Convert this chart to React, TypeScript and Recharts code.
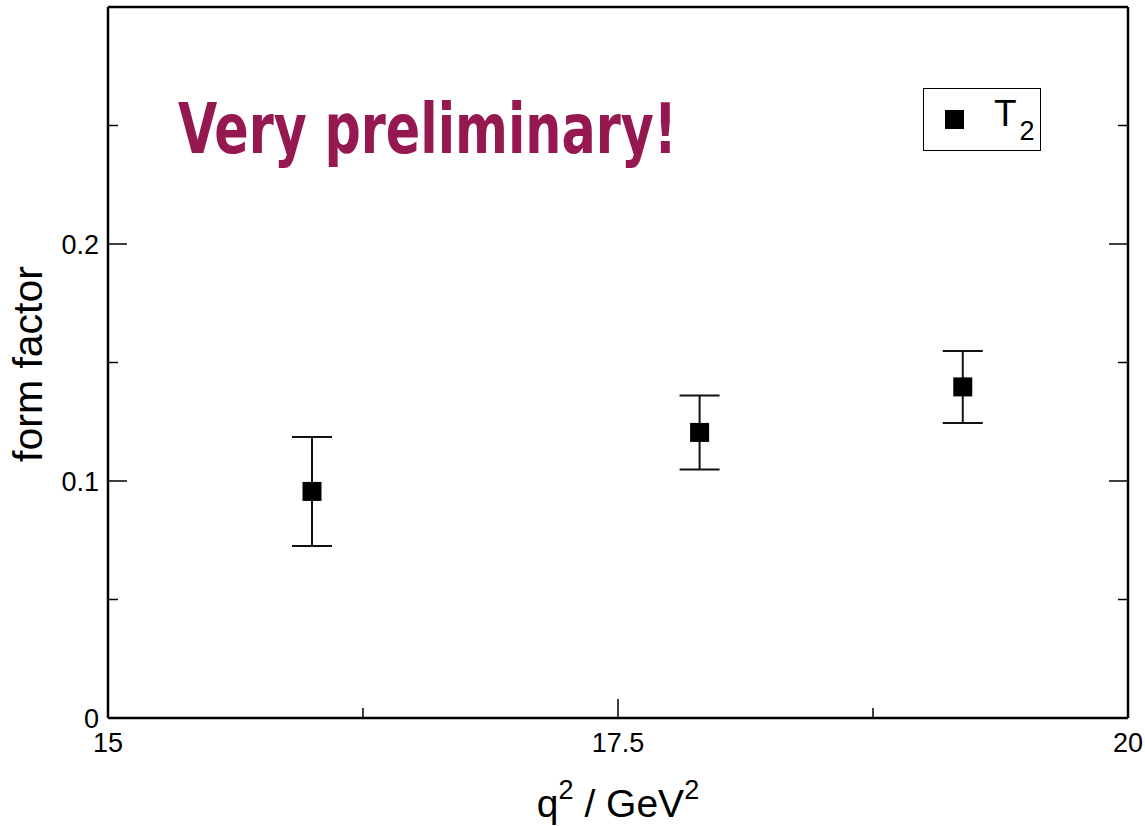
// Form factor T2 vs q^2 — scatter with error bars (Recharts)
import {
  ScatterChart, Scatter, XAxis, YAxis, ErrorBar, Legend,
} from 'recharts';

const Q2 = [16.0, 17.9, 19.19];
const T2 = [0.0956, 0.1205, 0.1397];
const T2_ERR = [0.023, 0.0156, 0.0152];

const X_TICKS = [15, 16.25, 17.5, 18.75, 20];
const X_MAJOR = [15, 17.5, 20];
const Y_TICKS = [0, 0.05, 0.1, 0.15, 0.2, 0.25, 0.3];
const Y_MAJOR = [0, 0.1, 0.2];

const FONT = '"Liberation Sans", Arial, Helvetica, sans-serif';
const MAJOR_LEN = 19;
const MINOR_LEN = 10;
const CHART_W = 1145;
const CHART_H = 826;
const MARGIN = { top: 6, right: 16, bottom: 48, left: 8 };
const Y_AXIS_W = 100;
const PLOT_W = CHART_W - MARGIN.left - MARGIN.right - Y_AXIS_W - 1;

const data = Q2.map((q, i) => ({ q2: q, t2: T2[i], err: T2_ERR[i] }));

function BottomTick({ x, y, payload }: any) {
  const major = X_MAJOR.includes(payload.value);
  return (
    <g>
      <line x1={x} x2={x} y1={y} y2={y - (major ? MAJOR_LEN : MINOR_LEN)} stroke="#000" strokeWidth={1.5} />
      {major && (
        <text x={x} y={y + 34} textAnchor="middle" fontSize={27} fontFamily={FONT} fill="#000">
          {payload.value}
        </text>
      )}
    </g>
  );
}

function TopTick({ x, y, payload }: any) {
  const major = X_MAJOR.includes(payload.value);
  return <line x1={x} x2={x} y1={y} y2={y + (major ? MAJOR_LEN : MINOR_LEN)} stroke="#000" strokeWidth={1.5} />;
}

// left ticks + labels, mirrored ticks on the right frame edge
function LeftTick({ x, y, payload }: any) {
  const major = Y_MAJOR.includes(payload.value) || payload.value === 0.3;
  const label = Y_MAJOR.includes(payload.value);
  const len = major ? MAJOR_LEN : MINOR_LEN;
  const xr = x + PLOT_W;
  return (
    <g>
      <line x1={x} x2={x + len} y1={y} y2={y} stroke="#000" strokeWidth={1.5} />
      <line x1={xr} x2={xr - len} y1={y} y2={y} stroke="#000" strokeWidth={1.5} />
      {label && (
        <text x={x - 9} y={y + 10} textAnchor="end" fontSize={27} fontFamily={FONT} fill="#000">
          {payload.value}
        </text>
      )}
    </g>
  );
}

function SquareDot({ cx, cy }: any) {
  return <rect x={cx - 9.5} y={cy - 9.5} width={19} height={19} fill="#000" />;
}

function LegendBox() {
  return (
    <div
      style={{
        width: 118, height: 63, border: '1.5px solid #000', boxSizing: 'border-box',
        background: '#fff', position: 'relative', fontFamily: FONT,
      }}
    >
      <div style={{ position: 'absolute', left: 21, top: 21, width: 19, height: 19, background: '#000' }} />
      <div style={{ position: 'absolute', left: 70, top: 3, fontSize: 37, lineHeight: '44px', color: '#000' }}>
        T<span style={{ fontSize: 27, position: 'relative', top: 14, marginLeft: 3 }}>2</span>
      </div>
    </div>
  );
}

function Annotations() {
  return (
    <g>
      <text
        x={178} y={153} fontSize={70} fontWeight="bold"
        fontFamily='"DejaVu Sans Condensed", "DejaVu Sans", sans-serif'
        fill="#951950" textLength={499} lengthAdjust="spacingAndGlyphs"
      >
        Very preliminary!
      </text>
      <text x={618} y={817} textAnchor="middle" fontSize={39} fontFamily={FONT} fill="#000">
        q<tspan dy={-18} fontSize={27}>2</tspan><tspan dy={18}> / GeV</tspan><tspan dy={-18} fontSize={27}>2</tspan>
      </text>
      <text
        x={0} y={0} textAnchor="middle" fontSize={41} fontFamily={FONT} fill="#000"
        transform="translate(42, 364) rotate(-90)"
      >
        form factor
      </text>
    </g>
  );
}

export default function App() {
  return (
    <div style={{ position: 'absolute', left: 0, top: 0, width: CHART_W, height: CHART_H, background: '#fff' }}>
      <ScatterChart width={CHART_W} height={CHART_H} margin={MARGIN}>
        <XAxis
          xAxisId="b" type="number" dataKey="q2" domain={[15, 20]} ticks={X_TICKS}
          orientation="bottom" height={60} tickLine={false} tickSize={0} tickMargin={0}
          axisLine={{ stroke: '#000', strokeWidth: 2.5 }} tick={<BottomTick />} interval={0}
          allowDataOverflow
        />
        <XAxis
          xAxisId="t" type="number" domain={[15, 20]} ticks={X_TICKS}
          orientation="top" height={1} tickLine={false} tickSize={0} tickMargin={0}
          axisLine={{ stroke: '#000', strokeWidth: 2.5 }} tick={<TopTick />} interval={0}
          allowDataOverflow
        />
        <YAxis
          yAxisId="l" type="number" dataKey="t2" domain={[0, 0.3]} ticks={Y_TICKS}
          orientation="left" width={Y_AXIS_W} tickLine={false} tickSize={0} tickMargin={0}
          axisLine={{ stroke: '#000', strokeWidth: 2.5 }} tick={<LeftTick />} interval={0}
          allowDataOverflow
        />
        <YAxis
          yAxisId="r" type="number" domain={[0, 0.3]}
          orientation="right" width={1} tickLine={false} tick={false}
          axisLine={{ stroke: '#000', strokeWidth: 2.5 }}
          allowDataOverflow
        />
        <Legend
          layout="vertical" align="center" verticalAlign="middle"
          content={<LegendBox />}
          wrapperStyle={{ position: 'absolute', left: 923, top: 88, width: 'auto', height: 'auto' }}
        />
        <Scatter
          name="T2" data={data} xAxisId="b" yAxisId="l" shape={<SquareDot />}
          isAnimationActive={false}
        >
          <ErrorBar dataKey="err" direction="y" width={20} stroke="#111" strokeWidth={2} isAnimationActive={false} />
        </Scatter>
        <Annotations />
      </ScatterChart>
    </div>
  );
}
